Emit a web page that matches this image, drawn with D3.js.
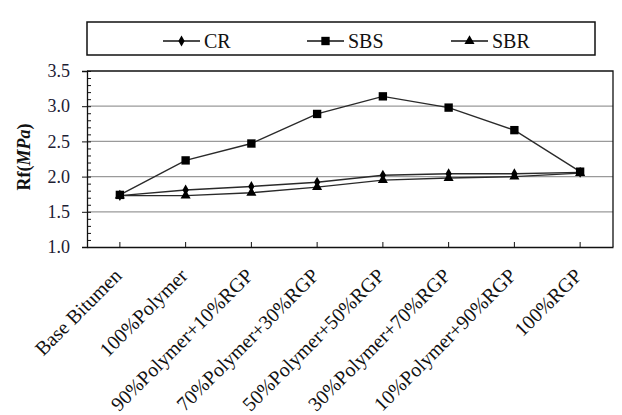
<!DOCTYPE html>
<html>
<head>
<meta charset="utf-8">
<script src="https://cdn.jsdelivr.net/npm/d3@7"></script>
<style>
  body { margin: 0; background: #fff; }
  svg text { font-family: "Liberation Serif", "DejaVu Serif", serif !important; }
</style>
</head>
<body>
<svg></svg>
<script>
// chart box inside the 622x415 window
const margin = { top: 71, right: 9, bottom: 168, left: 87 };
const width = 622 - margin.left - margin.right;
const height = 415 - margin.top - margin.bottom;
const serif = "Liberation Serif";

const svg = d3.select("svg")
    .attr("width", 622)
    .attr("height", 415);

// categories and series
const mixes = [
    "Base Bitumen",
    "100%Polymer",
    "90%Polymer+10%RGP",
    "70%Polymer+30%RGP",
    "50%Polymer+50%RGP",
    "30%Polymer+70%RGP",
    "10%Polymer+90%RGP",
    "100%RGP"
];
const crValues = [1.73, 1.81, 1.86, 1.92, 2.02, 2.04, 2.04, 2.06];
const sbsValues = [1.74, 2.23, 2.47, 2.89, 3.14, 2.98, 2.66, 2.07];
const sbrValues = [1.73, 1.73, 1.77, 1.85, 1.95, 1.98, 2.00, 2.05];
const yTicks = [1.0, 1.5, 2.0, 2.5, 3.0, 3.5];
const seriesNames = ["CR", "SBS", "SBR"];

const series = [
    { name: seriesNames[0], values: crValues, symbol: d3.symbolDiamond, size: 34 },
    { name: seriesNames[1], values: sbsValues, symbol: d3.symbolSquare, size: 70 },
    { name: seriesNames[2], values: sbrValues, symbol: d3.symbolTriangle, size: 44 }
];

const plot = svg.append("g")
    .attr("transform", `translate(${margin.left}, ${margin.top})`);

const x = d3.scaleBand()
    .domain(mixes)
    .range([0, width]);

const y = d3.scaleLinear()
    .domain([1.0, 3.5])
    .range([height, 0]);

// gridlines
plot.append("g")
    .selectAll("line")
    .data(yTicks.slice(1, -1))
    .join("line")
    .attr("x1", 0)
    .attr("x2", width)
    .attr("y1", d => y(d))
    .attr("y2", d => y(d))
    .attr("stroke", "#9a9a9a")
    .attr("stroke-width", 1.3);

// frame top and right
plot.append("path")
    .attr("d", `M0,0H${width}V${height}`)
    .attr("fill", "none")
    .attr("stroke", "#111")
    .attr("stroke-width", 1.3);

// y axis: minor ticks inward, major ticks crossing
const yAxis = plot.append("g");
yAxis.call(d3.axisLeft(y).tickValues(d3.range(10, 36).map(d => d / 10)).tickSize(-4).tickFormat(""));
yAxis.selectAll("path").remove();
yAxis.selectAll(".tick line").attr("stroke", "#111");

const yMajor = plot.append("g").call(
    d3.axisLeft(y).tickValues(yTicks).tickSize(5).tickPadding(12).tickFormat(d3.format(".1f"))
);
yMajor.attr("font-family", serif);
yMajor.select(".domain").attr("stroke", "#111").attr("stroke-width", 1.3);
yMajor.selectAll(".tick line").attr("stroke", "#111");
yMajor.selectAll(".tick text")
    .attr("font-size", 18)
    .attr("fill", "#1c2033");

// x axis with inward ticks at category centres
const xAxis = plot.append("g")
    .attr("transform", `translate(0, ${height})`)
    .call(d3.axisBottom(x).tickSize(-5).tickSizeOuter(0).tickFormat(""));
xAxis.select(".domain").attr("stroke", "#111").attr("stroke-width", 1.3);
xAxis.selectAll(".tick line").attr("stroke", "#111");

plot.append("g")
    .selectAll("text")
    .data(mixes)
    .join("text")
    .attr("transform", d => `translate(${x(d) + x.bandwidth() / 2 + 3}, ${height + 30}) rotate(-45)`)
    .attr("text-anchor", "end")
    .attr("font-family", serif)
    .attr("font-size", 20)
    .attr("fill", "#111")
    .text(d => d);

// y title
const yTitle = svg.append("text")
    .attr("transform", "translate(30, 157) rotate(-90)")
    .attr("text-anchor", "middle")
    .attr("font-family", serif)
    .attr("font-size", 18)
    .attr("font-weight", "bold")
    .attr("fill", "#111");
yTitle.append("tspan").text("Rf(");
yTitle.append("tspan").attr("font-style", "italic").text("MPa");
yTitle.append("tspan").text(")");

// lines and markers
const line = d3.line()
    .x((d, i) => x(mixes[i]) + x.bandwidth() / 2)
    .y(d => y(d));

series.forEach(s => {
    plot.append("path")
        .datum(s.values)
        .attr("d", line)
        .attr("fill", "none")
        .attr("stroke", "#2a2a2a")
        .attr("stroke-width", 1.4);
});

series.forEach(s => {
    plot.append("g")
        .selectAll("path")
        .data(s.values)
        .join("path")
        .attr("transform", (d, i) => `translate(${x(mixes[i]) + x.bandwidth() / 2}, ${y(d)})`)
        .attr("d", d3.symbol(s.symbol, s.size))
        .attr("fill", "#000");
});

// legend
const legend = svg.append("g");
legend.append("rect")
    .attr("x", 87)
    .attr("y", 22)
    .attr("width", 508)
    .attr("height", 33)
    .attr("fill", "#fff")
    .attr("stroke", "#111")
    .attr("stroke-width", 1.5);

const legendX = d3.scalePoint()
    .domain(seriesNames)
    .range([163, 451]);

const item = legend.selectAll("g.item")
    .data(series)
    .join("g")
    .attr("class", "item")
    .attr("transform", d => `translate(${legendX(d.name)}, 41)`);

item.append("line")
    .attr("x1", 0)
    .attr("x2", 37)
    .attr("stroke", "#111")
    .attr("stroke-width", 1.3);
item.append("path")
    .attr("transform", "translate(18.5, 0)")
    .attr("d", d => d3.symbol(d.symbol, d.size)())
    .attr("fill", "#000");
item.append("text")
    .attr("x", 41)
    .attr("y", 7)
    .attr("font-family", serif)
    .attr("font-size", 20)
    .attr("fill", "#111")
    .text(d => d.name);
</script>
</body>
</html>
